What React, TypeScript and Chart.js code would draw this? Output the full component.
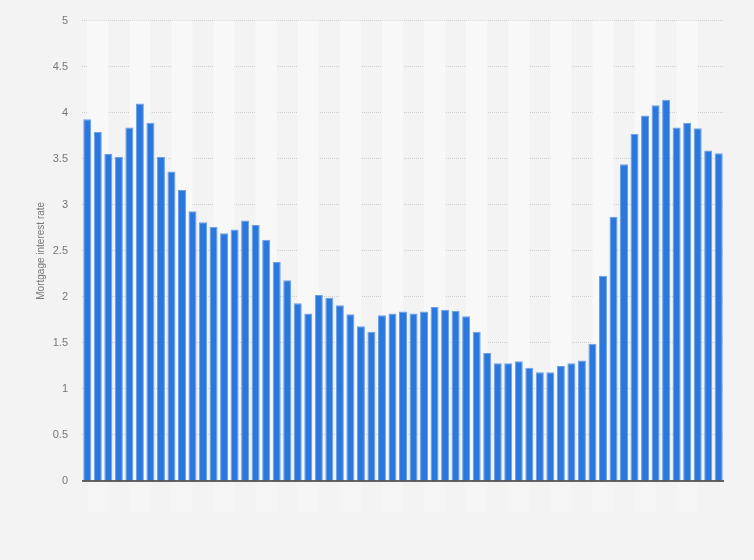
import { useEffect, useRef } from "react"
import { Chart, registerables } from "chart.js"

Chart.register(...registerables)

// Mortgage interest rate per period (61 periods)
const rates = [
  3.93, 3.79, 3.55, 3.52, 3.84, 4.1, 3.89, 3.52, 3.36, 3.16,
  2.93, 2.81, 2.76, 2.69, 2.73, 2.83, 2.78, 2.62, 2.38, 2.18,
  1.93, 1.82, 2.02, 1.99, 1.91, 1.81, 1.68, 1.62, 1.8, 1.82,
  1.84, 1.82, 1.84, 1.89, 1.86, 1.85, 1.79, 1.62, 1.39, 1.28,
  1.28, 1.3, 1.23, 1.18, 1.18, 1.25, 1.28, 1.31, 1.49, 2.23,
  2.87, 3.44, 3.77, 3.97, 4.08, 4.14, 3.84, 3.89, 3.83, 3.59,
  3.56,
]
const periods = rates.map((_, i) => String(i + 1))
const yTicks = [0, 0.5, 1, 1.5, 2, 2.5, 3, 3.5, 4, 4.5, 5]

const FONT = "'Liberation Sans', Arial, sans-serif"

// alternating column bands behind the bars, plus the dark zero line
const backdrop = {
  id: "backdrop",
  beforeDatasetsDraw(chart: any) {
    const { ctx, chartArea, scales } = chart
    const x = scales.x
    const n = periods.length
    ctx.save()
    for (let i = 0; i < n; i += 4) {
      const a = x.getPixelForValue(i)
      const b = Math.min(x.getPixelForValue(Math.min(i + 2, n - 1)), chartArea.right)
      ctx.fillStyle = "#f8f8f8"
      ctx.fillRect(a, chartArea.top, b - a, chartArea.bottom - chartArea.top)
      ctx.fillStyle = "#f5f5f5"
      ctx.fillRect(a, chartArea.bottom, b - a, 31)
    }
    ctx.restore()
  },
  afterDatasetsDraw(chart: any) {
    const { ctx, chartArea, scales } = chart
    const y0 = scales.y.getPixelForValue(0)
    ctx.save()
    ctx.strokeStyle = "#333333"
    ctx.lineWidth = 1.5
    ctx.beginPath()
    ctx.moveTo(chartArea.left, y0)
    ctx.lineTo(chartArea.right, y0)
    ctx.stroke()
    ctx.restore()
  },
}

const RateChart = () => {
  const chartRef = useRef<HTMLCanvasElement>(null)

  useEffect(() => {
    if (!chartRef.current) return
    const ctx = chartRef.current.getContext("2d")
    if (!ctx) return

    const chart = new Chart(ctx, {
      type: "bar",
      data: {
        labels: periods,
        datasets: [
          {
            label: "Mortgage interest rate",
            data: rates,
            backgroundColor: "#2a77dd",
            borderColor: "#6a9fe6",
            borderWidth: { top: 1, left: 1, right: 1, bottom: 0 },
            barPercentage: 0.76,
            categoryPercentage: 1,
          },
        ],
      },
      options: {
        responsive: false,
        animation: false,
        layout: { padding: { top: 19, right: 30, bottom: 79, left: 0 } },
        plugins: {
          legend: { display: false },
          tooltip: { enabled: false },
        },
        scales: {
          x: { display: false },
          y: {
            min: 0,
            max: 5,
            afterBuildTicks: (scale: any) => {
              scale.ticks = yTicks.map((v) => ({ value: v }))
            },
            afterFit: (scale: any) => {
              scale.width = 82
            },
            grid: {
              color: (c: any) => (c.tick && c.tick.value === 0 ? "rgba(0,0,0,0)" : "#cfcfcf"),
              drawTicks: false,
            },
            border: { display: false, dash: [1, 1] },
            ticks: {
              padding: 14,
              color: "#777777",
              font: { family: FONT, size: 11 },
              callback: (v: any) => String(v),
            },
            title: {
              display: true,
              text: "Mortgage interest rate",
              color: "#777777",
              font: { family: FONT, size: 10 },
              padding: { top: 35, bottom: 0 },
            },
          },
        },
      },
      plugins: [backdrop],
    })

    return () => {
      chart.destroy()
    }
  }, [])

  return <canvas ref={chartRef} width={754} height={560} style={{ display: "block" }} />
}

export default function App() {
  return (
    <div style={{ position: "fixed", left: 0, top: 0, width: 754, height: 560, background: "#f3f3f3" }}>
      <RateChart />
    </div>
  )
}
